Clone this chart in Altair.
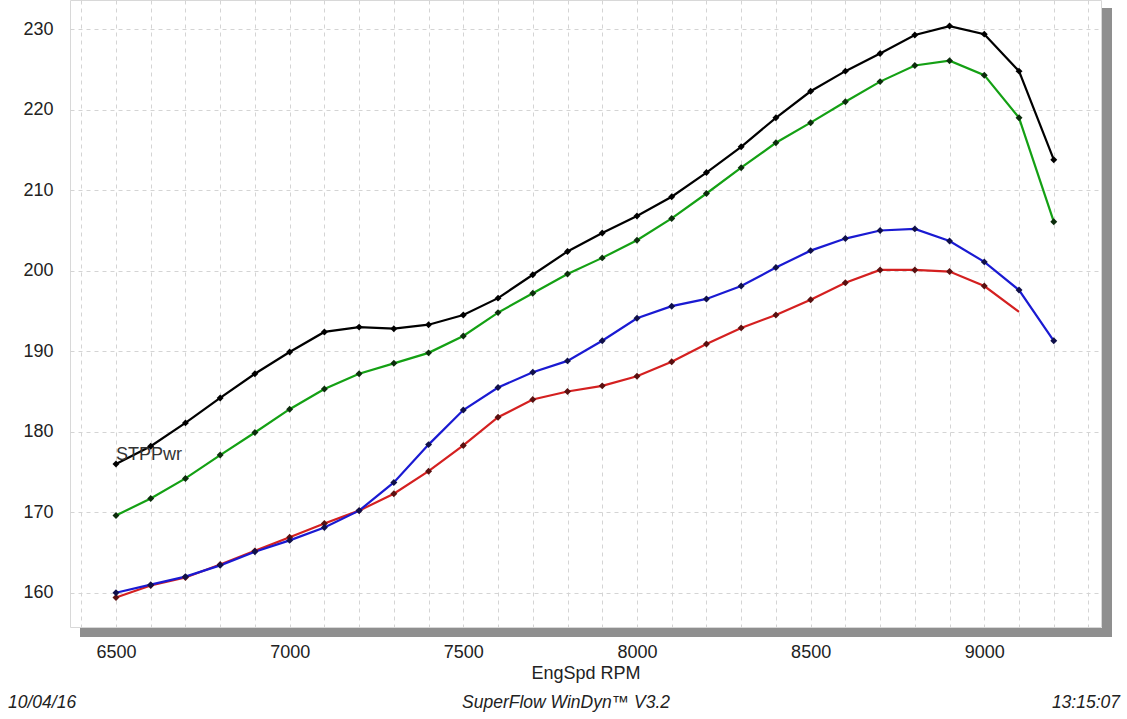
import altair as alt
import pandas as pd

rpm = [6500, 6600, 6700, 6800, 6900, 7000, 7100, 7200, 7300, 7400, 7500, 7600, 7700, 7800,
       7900, 8000, 8100, 8200, 8300, 8400, 8500, 8600, 8700, 8800, 8900, 9000, 9100, 9200]

black = [176.0, 178.2, 181.1, 184.2, 187.2, 189.9, 192.4, 193.0, 192.8, 193.3, 194.5, 196.6, 199.5, 202.4,
         204.7, 206.8, 209.2, 212.2, 215.4, 219.0, 222.3, 224.8, 227.0, 229.3, 230.4, 229.4, 224.8, 213.8]
green = [169.6, 171.7, 174.2, 177.1, 179.9, 182.8, 185.3, 187.2, 188.5, 189.8, 191.9, 194.8, 197.2, 199.6,
         201.6, 203.8, 206.5, 209.6, 212.8, 215.9, 218.4, 221.0, 223.5, 225.5, 226.1, 224.3, 219.0, 206.1]
blue = [160.0, 161.0, 162.0, 163.4, 165.1, 166.5, 168.1, 170.2, 173.7, 178.4, 182.7, 185.5, 187.4, 188.8,
        191.3, 194.1, 195.6, 196.5, 198.1, 200.4, 202.5, 204.0, 205.0, 205.2, 203.7, 201.1, 197.6, 191.3]
red = [159.4, 160.9, 161.9, 163.5, 165.2, 166.9, 168.6, 170.2, 172.3, 175.1, 178.3, 181.8, 184.0, 185.0,
       185.7, 186.9, 188.7, 190.9, 192.9, 194.5, 196.4, 198.5, 200.1, 200.1, 199.9, 198.1, 194.9]

x_ticks = list(range(6400, 9301, 100))
y_ticks = list(range(160, 231, 10))
footer_texts = ["10/04/16", "SuperFlow WinDyn\u2122 V3.2", "13:15:07"]

W, H = 1031, 627
FONT = "Liberation Sans"

xs = alt.Scale(domain=[6367.6, 9336], nice=False, zero=False)
ys = alt.Scale(domain=[155.74, 233.64], nice=False, zero=False)

series = [
    ("red", red, "#d42020", "#5a1010"),
    ("blue", blue, "#1a1ad2", "#10104a"),
    ("green", green, "#14a014", "#0c2c0c"),
    ("black", black, "#000000", "#000000"),
]

rows = []
for name, vals, _, _ in series:
    for r, v in zip(rpm, vals):
        rows.append({"rpm": r, "val": v, "s": name})
df = pd.DataFrame(rows)

xaxis = alt.Axis(values=x_ticks, labelExpr="datum.value % 500 == 0 ? datum.label : ''", format="d",
                 labelOverlap=False,
                 grid=True, gridDash=[4, 4], gridColor="#d4d4d4", ticks=False, domain=False,
                 labelFont=FONT, labelFontSize=18, labelColor="#222222", labelPadding=16,
                 title="EngSpd RPM", titleFont=FONT, titleFontSize=18, titleFontWeight="normal",
                 titleColor="#222222", titlePadding=3)
yaxis = alt.Axis(values=y_ticks, grid=True, gridDash=[4, 4], gridColor="#d4d4d4", ticks=False,
                 labelOverlap=False,
                 domain=False, labelFont=FONT, labelFontSize=18, labelColor="#222222",
                 labelPadding=17, title=None)

base = alt.Chart(df)

# shadow (decoration)
shadow_df = pd.DataFrame({"k": ["right", "bottom"]})
shadow_r = alt.Chart(shadow_df).transform_filter("datum.k == 'right'").mark_rect(
    color="#8f8f8f", clip=False).encode(
    x=alt.value(W + 1), x2=alt.value(W + 11), y=alt.value(8), y2=alt.value(H + 10))
shadow_b = alt.Chart(shadow_df).transform_filter("datum.k == 'bottom'").mark_rect(
    color="#8f8f8f", clip=False).encode(
    x=alt.value(10), x2=alt.value(W + 11), y=alt.value(H + 1), y2=alt.value(H + 10))

layers = []
axis_layer = base.mark_point(opacity=0).encode(
    x=alt.X("rpm:Q", scale=xs, axis=xaxis),
    y=alt.Y("val:Q", scale=ys, axis=yaxis),
)
layers.append(axis_layer)

for name, vals, lc, mc in series:
    sub = base.transform_filter(f"datum.s == '{name}'")
    line = sub.mark_line(color=lc, strokeWidth=2.2).encode(
        x=alt.X("rpm:Q", scale=xs, axis=xaxis), y=alt.Y("val:Q", scale=ys, axis=yaxis))
    layers.append(line)
for name, vals, lc, mc in series:
    sub = base.transform_filter(f"datum.s == '{name}'")
    if name == "red":
        sub = sub.transform_filter("datum.rpm < 9100")
    pts = sub.mark_point(shape="diamond", filled=True, size=48, color=mc, opacity=1).encode(
        x=alt.X("rpm:Q", scale=xs, axis=xaxis), y=alt.Y("val:Q", scale=ys, axis=yaxis))
    layers.append(pts)

label_df = pd.DataFrame({"rpm": [6500], "val": [177.1], "t": ["STPPwr"]})
label = alt.Chart(label_df).mark_text(align="left", baseline="middle", font=FONT, fontSize=18,
                                      color="#333333").encode(
    x=alt.X("rpm:Q", scale=xs, axis=xaxis), y=alt.Y("val:Q", scale=ys, axis=yaxis), text="t:N")
layers.append(label)

foot_df = pd.DataFrame({"t": footer_texts, "i": [0, 1, 2]})
f0 = alt.Chart(foot_df).transform_filter("datum.i == 0").mark_text(
    align="left", baseline="middle", font=FONT, fontSize=17.5, fontStyle="italic", color="#222222",
    clip=False).encode(text="t:N", x=alt.value(-62), y=alt.value(703))
f1 = alt.Chart(foot_df).transform_filter("datum.i == 1").mark_text(
    align="center", baseline="middle", font=FONT, fontSize=17.5, fontStyle="italic", color="#222222",
    clip=False).encode(text="t:N", x=alt.value(496), y=alt.value(703))
f2 = alt.Chart(foot_df).transform_filter("datum.i == 2").mark_text(
    align="right", baseline="middle", font=FONT, fontSize=17.5, fontStyle="italic", color="#222222",
    clip=False).encode(text="t:N", x=alt.value(1120 - 70), y=alt.value(703))

chart = alt.layer(shadow_r, shadow_b, *layers, f0, f1, f2).properties(
    width=W, height=H,
    autosize=alt.AutoSizeParams(type="none"),
    padding={"left": 70, "top": 0, "right": 26, "bottom": 92},
    background="white",
).configure_view(stroke="#d8d8d8", strokeWidth=1).configure_axis(labelOverlap=False)

chart.save("out.html", embed_options={"renderer": "svg", "actions": False})
